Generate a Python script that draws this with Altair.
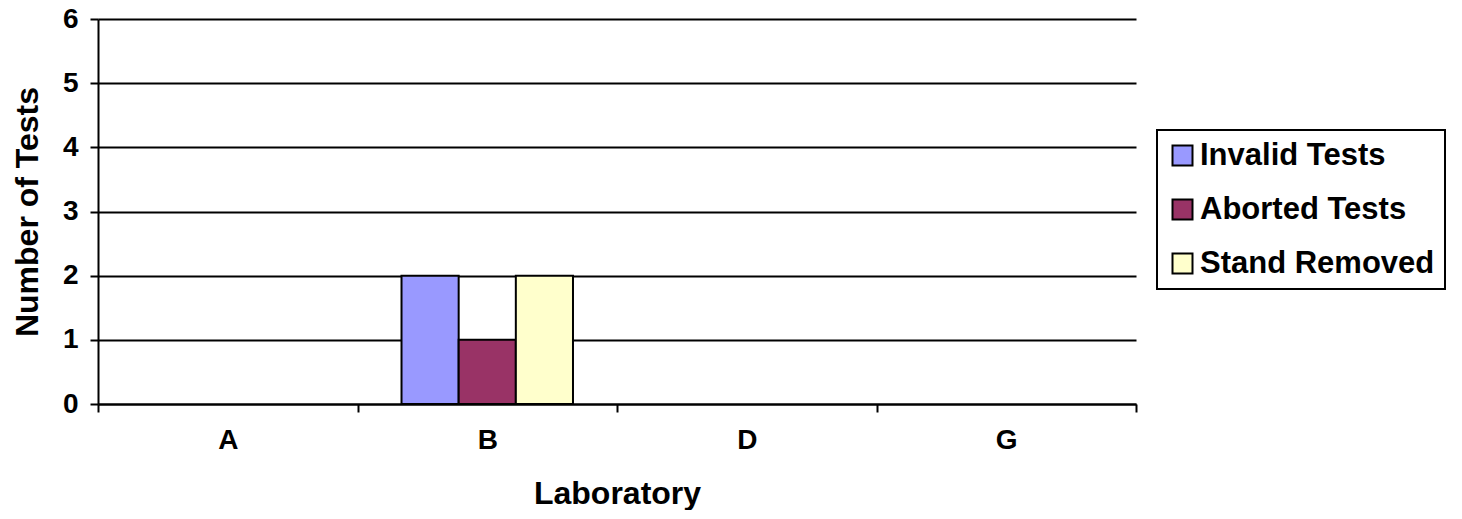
import altair as alt
import pandas as pd

labs = ["A", "B", "D", "G"]
series = ["Invalid Tests", "Aborted Tests", "Stand Removed"]
invalid = [0, 2, 0, 0]
aborted = [0, 1, 0, 0]
stand_removed = [0, 2, 0, 0]
colors = ["#9999FF", "#993366", "#FFFFCC"]
y_ticks = [0, 1, 2, 3, 4, 5, 6]

rows = []
for s, vals in zip(series, [invalid, aborted, stand_removed]):
    for l, v in zip(labs, vals):
        rows.append({"Laboratory": l, "Series": s, "Tests": v})
df = pd.DataFrame(rows)

font = "Liberation Sans"

chart = alt.Chart(df).mark_bar(stroke="black", strokeWidth=2).encode(
    x=alt.X("Laboratory:N", sort=labs,
            scale=alt.Scale(domain=labs, paddingInner=0, paddingOuter=0),
            axis=alt.Axis(title="Laboratory", labelAngle=0, tickBand="extent",
                          grid=False, tickSize=8, labelPadding=14,
                          labelFontSize=28, titleFontSize=32, titlePadding=24)),
    xOffset=alt.XOffset("Series:N", sort=series,
                        scale=alt.Scale(domain=series, paddingInner=0, paddingOuter=0.77)),
    y=alt.Y("Tests:Q", scale=alt.Scale(domain=[0, 6], nice=False),
            axis=alt.Axis(title="Number of Tests", values=y_ticks, format="d",
                          grid=True, tickSize=8, labelPadding=12,
                          labelFontSize=28, titleFontSize=32, titlePadding=18)),
    color=alt.Color("Series:N", sort=series,
                    scale=alt.Scale(domain=series, range=colors),
                    legend=alt.Legend(title=None, orient="none", legendX=1059, legendY=111,
                                      symbolType="square", symbolSize=400,
                                      symbolStrokeColor="black", symbolStrokeWidth=2,
                                      labelFontSize=31, labelFont=font, labelFontWeight="bold",
                                      labelColor="black", labelOffset=2, labelLimit=500,
                                      strokeColor="black", padding=10,
                                      rowPadding=22, fillColor="white")),
).transform_filter(
    "datum.Tests > 0"
).properties(
    width=1038, height=385,
    padding={"left": 90, "top": 11, "right": 316, "bottom": 106},
    autosize=alt.AutoSizeParams(type="none"),
).configure_view(
    stroke="transparent"
).configure_legend(
    strokeWidth=2
).configure_axis(
    labelFont=font, titleFont=font, labelFontWeight="bold", titleFontWeight="bold",
    labelColor="black", titleColor="black",
    domainColor="black", domainWidth=2, tickColor="black", tickWidth=2,
    gridColor="black", gridWidth=2, gridOpacity=1,
)

chart.save("out.html", embed_options={"renderer": "svg", "actions": False})
